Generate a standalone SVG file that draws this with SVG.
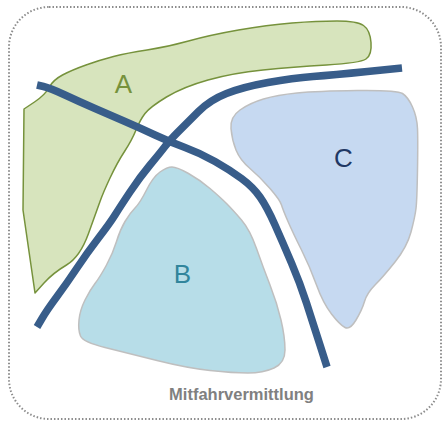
<svg xmlns="http://www.w3.org/2000/svg" width="442" height="421" viewBox="0 0 442 421">
<style>
.frame{fill:#fff;stroke:#8c8c8c;stroke-width:2;stroke-dasharray:1.5 2}
.area{stroke-width:1.5;stroke-linejoin:round}
.road{fill:none;stroke:#385d8a;stroke-width:7.5;stroke-linejoin:round;stroke-linecap:butt}
.lbl{font-family:"Liberation Sans",Arial,sans-serif;font-size:26px;text-anchor:middle}
.title{font-family:"Liberation Sans",Arial,sans-serif;font-size:16.5px;font-weight:bold;fill:#808080;text-anchor:middle}
</style>
<rect class="frame" x="9" y="7" width="432" height="412" rx="40" ry="40"/>
<g id="A">
<path class="area" fill="#d7e4bd" stroke="#76923c" d="M24,109 L34.5,102 Q45,95 49,87.5 Q53,80 62.5,75 Q72,70 86,65 Q100,60 113.5,56.5 Q127,53 147,50 Q167,47 188.5,41 Q210,35 238.5,30 Q267,25 292,23 Q317,21 337,21 Q357,21 363.5,25.5 Q370,30 371,42.5 Q372,55 366,59 Q360,63 326.5,65 Q293,67 263,70 Q233,73 208,80 Q183,87 166.5,97 Q150,107 145,113.5 Q140,120 136,130 Q132,140 124.5,151.5 Q117,163 110,178 Q103,193 100,201.5 Q97,210 88.5,233.5 Q80,257 66.5,265 Q53,273 44,283 L35,293 L23,210 Z"/>
<text class="lbl" x="123.5" y="93" fill="#76923c">A</text>
</g>
<g id="C">
<path class="area" fill="#c6d9f1" stroke="#bfbfbf" d="M231,128.5 Q230,117 240,110 Q250,103 263.5,99 Q277,95 297,93 Q317,91 357,90.5 Q397,90 402.5,93.5 Q408,97 412.5,107 Q417,117 417.5,128.5 Q418,140 417.5,170 Q417,200 416,208.5 Q415,217 411,232 Q407,247 395,262 Q383,277 375,285 Q367,293 364.5,301.5 Q362,310 356,320 Q350,330 345,327.5 Q340,325 331.5,314 Q323,303 316.5,285 Q310,267 301.5,250 Q293,233 288,221.5 Q283,210 281.5,205 Q280,200 270,188.5 Q260,177 250,168.5 Q240,160 236,150 Q232,140 231,128.5 Z"/>
<text class="lbl" x="343.5" y="167" fill="#1f3864">C</text>
</g>
<g id="B">
<path class="area" fill="#b7dde8" stroke="#bfbfbf" d="M135,208 Q140,203 146.5,190 Q153,177 160,172 Q167,167 172,167 Q177,167 188.5,173.5 Q200,180 210,188.5 Q220,197 226.5,203.5 Q233,210 241.5,220 Q250,230 256.5,248.5 Q263,267 270,285 Q277,303 281,320 Q285,337 285,350 Q285,363 274,368 Q263,373 248,373 Q233,373 210,370.5 Q187,368 157,360.5 Q127,353 105,347.5 Q83,342 80.5,336 Q78,330 79,320 Q80,310 85,300 Q90,290 95,283.5 Q100,277 106.5,265 Q113,253 116.5,241.5 Q120,230 125,221.5 Q130,213 135,208 Z"/>
<text class="lbl" x="182.5" y="283" fill="#31859c">B</text>
</g>
<g id="roads">
<path class="road" d="M37,85 L43.5,86.5 Q50,88 65,95 Q80,102 95,108.5 Q110,115 125,121.5 Q140,128 155,135 Q170,142 185,147.5 Q200,153 215,161.5 Q230,170 241.5,178.5 Q253,187 260,197 Q267,207 275,225 Q283,243 291.5,263 Q300,283 306.5,303 Q313,323 320,345 L327,367"/>
<path class="road" d="M37,327 L42,318.5 Q47,310 57,296.5 Q67,283 77,268 Q87,253 98.5,238 Q110,223 115,215 Q120,207 130,192 Q140,177 150,165 Q160,153 165,146.5 Q170,140 178.5,131.5 Q187,123 198.5,111.5 Q210,100 226.5,93.5 Q243,87 268,82.5 Q293,78 313,76.5 Q333,75 367.5,71.5 L402,68"/>
</g>
<text class="title" x="241.5" y="400">Mitfahrvermittlung</text>
</svg>
